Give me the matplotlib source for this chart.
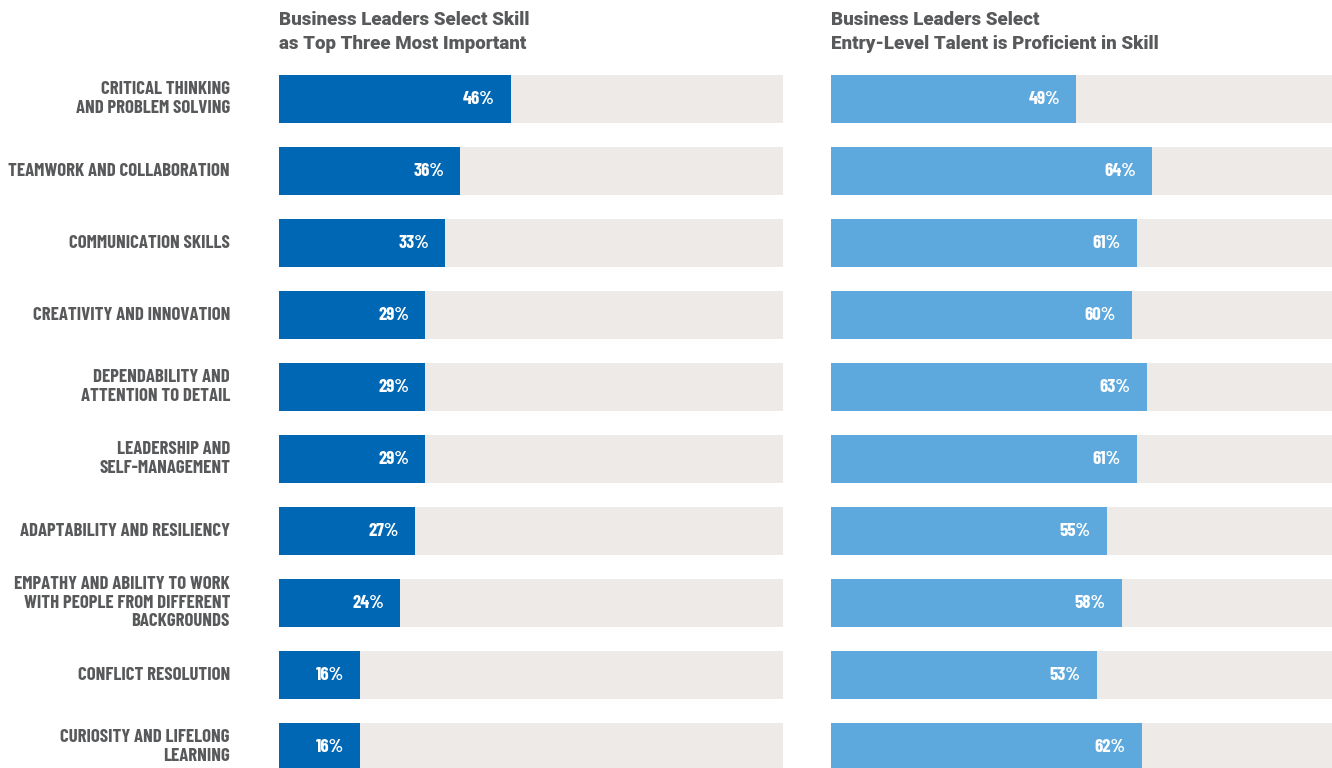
import matplotlib
matplotlib.use("Agg")
import matplotlib.pyplot as plt
from matplotlib import font_manager

skills = [
    "CRITICAL THINKING\nAND PROBLEM SOLVING",
    "TEAMWORK AND COLLABORATION",
    "COMMUNICATION SKILLS",
    "CREATIVITY AND INNOVATION",
    "DEPENDABILITY AND\nATTENTION TO DETAIL",
    "LEADERSHIP AND\nSELF-MANAGEMENT",
    "ADAPTABILITY AND RESILIENCY",
    "EMPATHY AND ABILITY TO WORK\nWITH PEOPLE FROM DIFFERENT\nBACKGROUNDS",
    "CONFLICT RESOLUTION",
    "CURIOSITY AND LIFELONG\nLEARNING",
]
top_three = [46, 36, 33, 29, 29, 29, 27, 24, 16, 16]
proficient = [49, 64, 61, 60, 63, 61, 55, 58, 53, 62]

titles = [
    "Business Leaders Select Skill\nas Top Three Most Important",
    "Business Leaders Select\nEntry-Level Talent is Proficient in Skill",
]

GRAY = "#58595B"
TRACK = "#EEEAE7"
DARK = "#0067B4"
LIGHT = "#5DA9DD"

# bold narrow face for the labels, whichever is installed
bold_faces = {f.name for f in font_manager.fontManager.ttflist if f.weight >= 700}
narrow = [n for n in ["Barlow Condensed", "Roboto Condensed", "Oswald",
                      "IBM Plex Sans Condensed", "Liberation Sans Narrow"]
          if n in bold_faces]
COND = narrow[:1] + ["DejaVu Sans"]

W, H = 1332, 768
fig = plt.figure(figsize=(W / 100, H / 100), dpi=100)

top_px = 63
row_px = 72
y_bottom = -0.5 + (H - top_px) / row_px

panels = [(279, 504, top_three, DARK), (831, 501, proficient, LIGHT)]
rows = list(range(len(skills)))

for i, (x0, w, vals, col) in enumerate(panels):
    ax = fig.add_axes([x0 / W, 0, w / W, (H - top_px) / H])
    ax.barh(rows, [100] * len(rows), height=48 / 72, color=TRACK)
    ax.barh(rows, vals, height=48 / 72, color=col)
    for r, v in zip(rows, vals):
        ax.annotate(f"{v}%", (v, r), xytext=(-16, 0), textcoords="offset pixels",
                    ha="right", va="center", color="white", fontsize=13.5,
                    fontweight="bold", family=COND)
    ax.set_xlim(0, 100)
    ax.set_ylim(y_bottom, -0.5)
    ax.axis("off")
    fig.text(x0 / W, 1 - 11 / H, titles[i], ha="left", va="top", color=GRAY,
             fontsize=13.5, fontweight="heavy", family=["Roboto", "DejaVu Sans"],
             linespacing=1.45)
    if i == 0:
        for r, s in zip(rows, skills):
            ax.annotate(s, (0, r), xytext=(-49, 0), textcoords="offset pixels",
                        ha="right", va="center", color=GRAY, fontsize=13.5,
                        fontweight="bold", family=COND, linespacing=1.12,
                        annotation_clip=False)

fig.savefig("out.png", dpi=100)
